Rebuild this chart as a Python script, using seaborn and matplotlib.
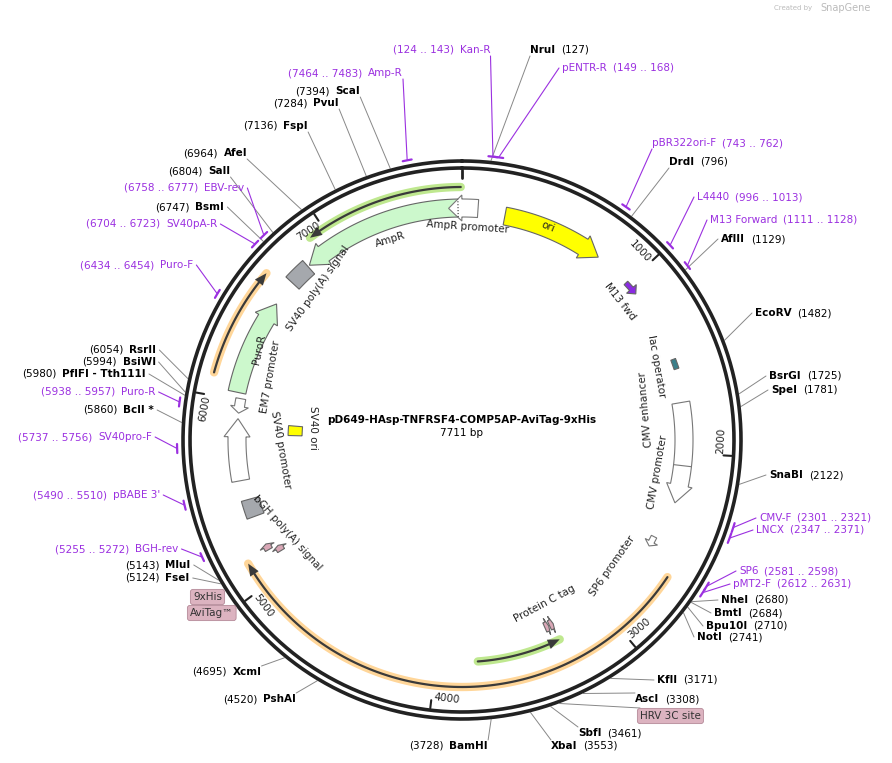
import numpy as np
import matplotlib
matplotlib.use("Agg")
import matplotlib.pyplot as plt
import seaborn as sns
from matplotlib.patches import Polygon

sns.set_theme(style="white")
plt.rcParams['font.family'] = ['DejaVu Sans']
FS = 7.5

TOTAL_BP = 7711
PLASMID = "pD649-HAsp-TNFRSF4-COMP5AP-AviTag-9xHis"

enz_names = ["NruI","DrdI","AflII","EcoRV","BsrGI","SpeI","SnaBI","NheI","BmtI","Bpu10I","NotI",
             "KflI","AscI","SbfI","XbaI","BamHI","PshAI","XcmI","FseI","MluI","BclI *",
             "PflFI - Tth111I","BsiWI","RsrII","BsmI","SalI","AfeI","FspI","PvuI","ScaI"]
enz_sites = [127,796,1129,1482,1725,1781,2122,2680,2684,2710,2741,3171,3308,3461,3553,3728,
             4520,4695,5124,5143,5860,5980,5994,6054,6747,6804,6964,7136,7284,7394]
primer_names = ["Kan-R","pENTR-R","Amp-R","pBR322ori-F","L4440","M13 Forward","EBV-rev","SV40pA-R",
                "Puro-F","Puro-R","SV40pro-F","pBABE 3'","BGH-rev","CMV-F","LNCX","SP6","pMT2-F"]
primer_start = [124,149,7464,743,996,1111,6758,6704,6434,5938,5737,5490,5255,2301,2347,2581,2612]
primer_end = [143,168,7483,762,1013,1128,6777,6723,6454,5957,5756,5510,5272,2321,2371,2598,2631]

enz_layout = [(530,50,'R','bl'),(669,162,'R','bl'),(721,239,'R','l'),(755,313,'R','l'),(769,376,'R','l'),
              (771,390,'R','l'),(769,475,'R','l'),(721,600,'R','l'),(714,613,'R','l'),(706,626,'R','l'),
              (697,637,'R','l'),(657,680,'R','l'),(635,699,'R','tl'),(578,733,'R','tl'),(551,746,'R','tl'),
              (409,746,'L','tr'),(223,699,'L','tr'),(192,672,'L','tr'),(125,578,'L','r'),(125,565,'L','r'),
              (83,410,'L','r'),(22,374,'L','r'),(82,362,'L','r'),(89,350,'L','r'),(155,207,'L','r'),
              (168,171,'L','br'),(183,153,'L','br'),(243,126,'L','br'),(273,103,'L','br'),(295,91,'L','br')]
primer_layout = [(393,50,'L','br'),(562,68,'R','l'),(288,73,'L','br'),(652,143,'R','bl'),(697,197,'R','l'),
                 (710,220,'R','l'),(124,188,'L','r'),(86,224,'L','r'),(80,265,'L','r'),(41,392,'L','r'),
                 (18,437,'L','r'),(33,495,'L','r'),(55,549,'L','r'),(759,518,'R','l'),(756,530,'R','l'),
                 (739,571,'R','l'),(733,584,'R','l')]

feat_names = ["ori","AmpR promoter","AmpR","SV40 poly(A) signal","PuroR","EM7 promoter","SV40 promoter",
              "SV40 ori","bGH poly(A) signal","9xHis","AviTag","lac operator",
              "M13 fwd","SP6 promoter","Protein C tag a","Protein C tag b"]
feat_start = [232,7640,6830,6700,6040,5930,5560,5815,5350,5150,5110,1480,990,2500,3290,3320]
feat_end = [786,85,7690,6820,6560,6010,5900,5885,5450,5185,5145,1535,1070,2560,3315,3345]
feat_dir = [1,-1,-1,0,1,-1,1,0,0,1,1,0,1,1,-1,-1]
feat_face = ["#ffff00","#ffffff","#ccf8cc","#a5a8ad","#ccf8cc","#ffffff","#ffffff","#ffff00","#a5a8ad",
             "#d9a7b6","#d9a7b6","#3a7f8a","#8a2be2","#ffffff","#d9a7b6","#d9a7b6"]
feat_r = [228,232,232,231,230,225,225,167,220,222,212,226,227,215,205,205]
feat_w = [18,18,18,18,18,10,18,14,18,8,8,5,5,6,10,10]

cmv_start, cmv_mid, cmv_end = 1720, 2070, 2280

thin_start = [7705,6110,2650,3768]
thin_end = [6920,6650,5140,3296]
thin_dir = [-1,1,1,-1]
thin_glow = ["#bfe88f","#ffd699","#ffd699","#bfe88f"]
thin_r = [253,257,247,222]

ticks = [1000,2000,3000,4000,5000,6000,7000]

pink_boxes = ["9xHis","AviTag™","HRV 3C site"]
pink_pos = [(193,597),(190,613),(640,716)]

CX, CY = 462, 440
W, H = 892, 763
fig = plt.figure(figsize=(W/100, H/100), dpi=100)
ax = fig.add_axes([0,0,1,1])
ax.set_xlim(0, W); ax.set_ylim(H, 0); ax.axis('off')

def pt(bp, r):
    t = 2*np.pi*bp/TOTAL_BP
    return CX + r*np.sin(t), CY - r*np.cos(t)

def arcpts(a, b, r, n=60):
    return [pt(p, r) for p in np.linspace(a, b, n)]

def span(a, b):
    return (b - a) % TOTAL_BP

def feature(a, b, d, r, w, face, edge="#555555", lw=0.8, z=3):
    L = span(a, b)
    head = min(L*0.45, 14/(2*np.pi*r)*TOTAL_BP*1.3)
    if d == 0:
        poly = arcpts(a, a+L, r+w/2) + arcpts(a+L, a, r-w/2)
    elif d == 1:
        e = a + L - head
        poly = arcpts(a, e, r+w/2) + [pt(e, r+w/2+4), pt(a+L, r), pt(e, r-w/2-4)] + arcpts(e, a, r-w/2)
    else:
        e = a + head
        poly = arcpts(a+L, e, r+w/2) + [pt(e, r+w/2+4), pt(a, r), pt(e, r-w/2-4)] + arcpts(e, a+L, r-w/2)
    ax.add_patch(Polygon(poly, closed=True, fc=face, ec=edge, lw=lw, zorder=z))

t = np.linspace(0, 2*np.pi, 400)
for rr in (279, 272):
    ax.plot(CX + rr*np.sin(t), CY - rr*np.cos(t), color="#222222", lw=2.6, zorder=2)

x0, y0 = pt(0, 270); x1, y1 = pt(0, 262)
ax.plot([x0, x1], [y0, y1], color="#222222", lw=2, zorder=2)
for tk in ticks:
    x0, y0 = pt(tk, 270); x1, y1 = pt(tk, 262)
    ax.plot([x0, x1], [y0, y1], color="#222222", lw=1.5, zorder=2)
    ang = -360*tk/TOTAL_BP
    if 90 < tk/TOTAL_BP*360 < 270:
        ang += 180
    tx, ty = pt(tk - 70, 259)
    ax.text(tx, ty, str(tk), fontsize=FS, rotation=ang, ha='center', va='center', color="#222222", zorder=4)

for i in range(len(feat_names)):
    feature(feat_start[i], feat_end[i], feat_dir[i], feat_r[i], feat_w[i], feat_face[i],
            edge="#666666" if feat_face[i] != "#ffffff" else "#777777", z=3 if i != 1 else 4)
feature(cmv_start, cmv_end, 1, 222, 18, "#ffffff", edge="#777777")
a, b = pt(cmv_mid, 213), pt(cmv_mid, 231)
ax.plot([a[0], b[0]], [a[1], b[1]], color="#777777", lw=0.8, zorder=4)
a, b = pt(7690, 223), pt(7690, 241)
ax.plot([a[0], b[0]], [a[1], b[1]], color="#333333", lw=0.8, ls=':', zorder=5)

for s, e, d, g, r in zip(thin_start, thin_end, thin_dir, thin_glow, thin_r):
    hd = 12/(2*np.pi*r)*TOTAL_BP
    if d == -1:
        a0 = e; a1 = e + span(e, s)
        P = arcpts(a1, a0 + hd, r, 120); tip = pt(a0, r); hb = a0 + hd
    else:
        a0 = s; a1 = s + span(s, e)
        P = arcpts(a0, a1 - hd, r, 120); tip = pt(a1, r); hb = a1 - hd
    xs = [p[0] for p in P] + [tip[0]]; ys = [p[1] for p in P] + [tip[1]]
    ax.plot(xs, ys, color=g, lw=6, solid_capstyle='round', zorder=3)
    ax.plot(xs[:-1], ys[:-1], color="#3a3a3a", lw=1.6, zorder=3.5)
    ax.add_patch(Polygon([pt(hb, r+5), tip, pt(hb, r-5)], closed=True, fc="#3a3a3a", ec="none", zorder=3.6))

fig.canvas.draw()
ren = fig.canvas.get_renderer()
inv = ax.transData.inverted()

def chain(x, y, pieces):
    boxes = []
    cx = x
    for txt, col, wt in pieces:
        tt = ax.text(cx, y, txt, fontsize=FS, color=col, fontweight=wt, ha='left', va='center', zorder=6)
        bb = tt.get_window_extent(ren)
        (bx0, by0), (bx1, by1) = inv.transform([[bb.x0, bb.y0], [bb.x1, bb.y1]])
        boxes.append((bx0, bx1, min(by0, by1), max(by0, by1)))
        cx = bx1 + 6
    return boxes[0][0], boxes[-1][1], min(b[2] for b in boxes), max(b[3] for b in boxes)

def anchor(ext, mode):
    x0, x1, yt, yb = ext
    ym = (yt + yb)/2
    return {'l': (x0-3, ym), 'r': (x1+3, ym), 'bl': (x0, yb+1), 'br': (x1, yb+1),
            'tl': (x0, yt-1), 'tr': (x1, yt-1)}[mode]

for nm, site, (lx, ly, side, md) in zip(enz_names, enz_sites, enz_layout):
    num = f"({site})"
    pieces = [(nm, "black", "bold"), (num, "black", "normal")] if side == 'R' else \
             [(num, "black", "normal"), (nm, "black", "bold")]
    ext = chain(lx, ly, pieces)
    ax_, ay_ = anchor(ext, md)
    rx, ry = pt(site, 281)
    ax.plot([ax_, rx], [ay_, ry], color="#888888", lw=0.7, zorder=1)

for nm, s, e, (lx, ly, side, md) in zip(primer_names, primer_start, primer_end, primer_layout):
    rng = f"({s} .. {e})"
    pieces = [(nm, "#9b30e0", "normal"), (rng, "#9b30e0", "normal")] if side == 'R' else \
             [(rng, "#9b30e0", "normal"), (nm, "#9b30e0", "normal")]
    ext = chain(lx, ly, pieces)
    ax_, ay_ = anchor(ext, md)
    m = (s + span(s, e)/2)
    rx, ry = pt(m, 285)
    ax.plot([ax_, rx], [ay_, ry], color="#9b30e0", lw=0.8, zorder=1)
    P = arcpts(s - 10, s + span(s, e) + 10, 285, 10)
    ax.plot([p[0] for p in P], [p[1] for p in P], color="#9b30e0", lw=1.6, zorder=2)

for txt, (px, py) in zip(pink_boxes, pink_pos):
    ax.text(px, py, txt, fontsize=FS, ha='left', va='center', color="#333333", zorder=6,
            bbox=dict(boxstyle="round,pad=0.25", fc="#dcb3c0", ec="#b58a99", lw=0.6))
rx, ry = pt(3420, 281)
ax.plot([640, rx], [708, ry], color="#888888", lw=0.7, zorder=1)

flabels = [("ori", 548, 227, -22), ("AmpR promoter", 468, 227, -4), ("AmpR", 390, 240, 17),
           ("SV40 poly(A) signal", 318, 288, 55), ("PuroR", 259, 350, 78), ("EM7 promoter", 270, 377, 80),
           ("SV40 promoter", 281, 450, -80), ("SV40 ori", 313, 428, -90), ("bGH poly(A) signal", 287, 533, -48),
           ("Protein C tag", 545, 604, 28), ("SP6 promoter", 612, 566, 55), ("CMV promoter", 658, 472, 80),
           ("CMV enhancer", 646, 410, 95), ("lac operator", 656, 366, -80), ("M13 fwd", 620, 302, -52)]
for txt, x, y, r in flabels:
    ax.text(x, y, txt, fontsize=FS, rotation=r, ha='center', va='center', color="#222222", zorder=6,
            rotation_mode='anchor')

ax.text(CX, 420, PLASMID, fontsize=FS, fontweight='bold', ha='center', va='center', color='black')
ax.text(CX, 433, f"{TOTAL_BP} bp", fontsize=FS, ha='center', va='center', color='black')
ax.text(812, 8, "Created by", fontsize=5, color="#bbbbbb", ha='right', va='center')
ax.text(846, 8, "SnapGene", fontsize=7, color="#bbbbbb", ha='center', va='center')

fig.savefig("out.png", dpi=100)
